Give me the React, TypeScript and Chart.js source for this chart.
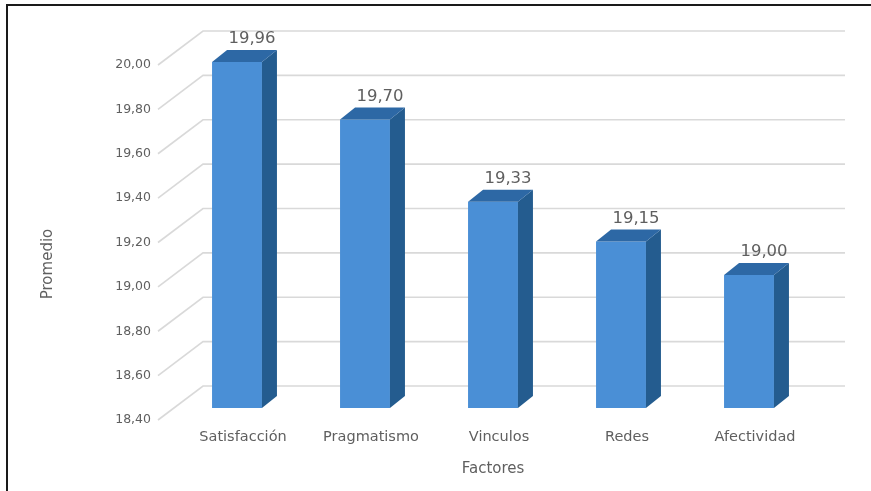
import React, { useEffect, useRef } from "react";
import { Chart, registerables } from "chart.js";

Chart.register(...registerables);

const categories = ["Satisfacción", "Pragmatismo", "Vinculos", "Redes", "Afectividad"];
const values = [19.96, 19.7, 19.33, 19.15, 19.0];
const yMin = 18.4;
const yMax = 20.0;
const yStep = 0.2;
const xTitle = "Factores";
const yTitle = "Promedio";

const FONT = "'DejaVu Sans', sans-serif";
const TEXT = "#5f5f5f";
const DX = 15;
const DY = 12;

const fmt = (v: number) => v.toFixed(2).replace(".", ",");

const depthPlugin = {
  id: "depth3d",
  beforeDraw(chart: any) {
    const { ctx } = chart;
    ctx.save();
    ctx.fillStyle = "#ffffff";
    ctx.fillRect(0, 0, chart.width, chart.height);
    ctx.strokeStyle = "#1a1a1a";
    ctx.lineWidth = 2;
    ctx.beginPath();
    ctx.moveTo(7, chart.height);
    ctx.lineTo(7, 5);
    ctx.lineTo(chart.width, 5);
    ctx.stroke();
    ctx.restore();
  },
  beforeDatasetsDraw(chart: any) {
    const { ctx, chartArea } = chart;
    const y = chart.scales.y;
    ctx.save();
    ctx.strokeStyle = "#d9d9d9";
    ctx.lineWidth = 1.6;
    y.ticks.forEach((t: any) => {
      const py = y.getPixelForValue(t.value);
      ctx.beginPath();
      ctx.moveTo(chartArea.left - 15, py + 12);
      ctx.lineTo(chartArea.left + 30, py - 22);
      ctx.lineTo(chartArea.right + 32, py - 22);
      ctx.stroke();
    });
    ctx.fillStyle = TEXT;
    ctx.font = `15px ${FONT}`;
    ctx.textAlign = "center";
    ctx.textBaseline = "middle";
    ctx.translate(48, 264);
    ctx.rotate(-Math.PI / 2);
    ctx.fillText(yTitle, 0, 0);
    ctx.restore();
  },
  afterDatasetsDraw(chart: any) {
    const { ctx } = chart;
    const yScale = chart.scales.y;
    const base = yScale.getPixelForValue(yMin);
    const meta = chart.getDatasetMeta(0);
    ctx.save();
    meta.data.forEach((bar: any, i: number) => {
      const x = bar.x;
      const y = bar.y;
      const width = bar.width;
      const l = x - width / 2;
      const r = x + width / 2;
      ctx.fillStyle = "#245c8f";
      ctx.beginPath();
      ctx.moveTo(r, y);
      ctx.lineTo(r + DX, y - DY);
      ctx.lineTo(r + DX, base - DY);
      ctx.lineTo(r, base);
      ctx.closePath();
      ctx.fill();
      ctx.fillStyle = "#2d68a5";
      ctx.beginPath();
      ctx.moveTo(l, y);
      ctx.lineTo(l + DX, y - DY);
      ctx.lineTo(r + DX, y - DY);
      ctx.lineTo(r, y);
      ctx.closePath();
      ctx.fill();
      ctx.fillStyle = TEXT;
      ctx.font = `16.5px ${FONT}`;
      ctx.textAlign = "center";
      ctx.textBaseline = "middle";
      ctx.fillText(fmt(values[i]), x + 15, y - 23);
    });
    ctx.restore();
  },
};

export default function App() {
  const ref = useRef<HTMLCanvasElement | null>(null);
  useEffect(() => {
    if (!ref.current) return;
    const chart = new Chart(ref.current, {
      type: "bar",
      data: {
        labels: categories,
        datasets: [
          {
            data: values,
            backgroundColor: "#4a8fd6",
            borderWidth: 0,
            barPercentage: 0.39,
            categoryPercentage: 1,
          },
        ],
      },
      options: {
        animation: false,
        responsive: false,
        layout: { padding: { left: 0, right: 58, top: 53, bottom: 0 } },
        plugins: { legend: { display: false }, tooltip: { enabled: false } },
        scales: {
          x: {
            grid: { display: false, drawTicks: false },
            border: { display: false },
            ticks: { color: TEXT, font: { family: FONT, size: 14.5 }, padding: 21, labelOffset: 6 },
            title: {
              display: true,
              text: xTitle,
              color: TEXT,
              font: { family: FONT, size: 15 },
              padding: { top: 0, bottom: 13 },
            },
            afterFit: (s: any) => {
              s.height = 83;
            },
          },
          y: {
            min: yMin,
            max: yMax,
            grid: { display: false, drawTicks: false },
            border: { display: false },
            ticks: {
              stepSize: yStep,
              color: TEXT,
              font: { family: FONT, size: 12.5 },
              padding: 22,
              labelOffset: 12,
              callback: (v: any) => fmt(Number(v)),
            },
            afterFit: (s: any) => {
              s.width = 173;
            },
          },
        },
      },
      plugins: [depthPlugin],
    });
    return () => chart.destroy();
  }, []);
  return (
    <div style={{ position: "fixed", left: 0, top: 0, width: 871, height: 491, background: "#fff" }}>
      <canvas ref={ref} width={871} height={491} />
    </div>
  );
}
